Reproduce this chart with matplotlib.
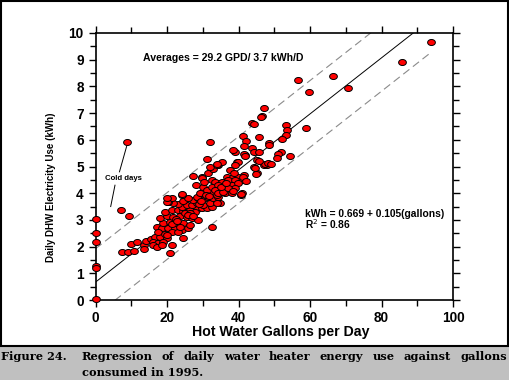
import numpy as np
import matplotlib
matplotlib.use("Agg")
import matplotlib.pyplot as plt
from matplotlib.patches import Rectangle
from matplotlib.ticker import MultipleLocator

# daily hot water use (gallons) and DHW electricity (kWh)
gallons = [
    0, 0, 0, 0, 0, 0,
    7.0, 9.5, 8.9, 7.4, 9.2, 10.8, 10.0, 11.5, 13.6, 13.6, 14.0, 15.6,
    16.6, 18.0, 19.9, 16.2, 17.6, 19.0, 16.2, 17.1, 18.5, 21.3, 20.7, 24.6,
    17.1, 18.5, 20.4, 22.2, 24.1, 26.0, 17.6, 19.4, 21.3, 23.2,
    19.0, 20.8, 22.7, 24.6, 26.4, 18.0, 19.9, 21.8, 23.6, 25.5, 26.9, 28.8,
    19.4, 21.3, 23.2, 24.6, 26.4, 28.3, 29.7, 31.1, 32.5,
    24.1, 23.2, 21.8, 25.5, 26.9, 28.3, 30.2, 32.0,
    20.4, 24.4, 27.4, 30.2, 33.9, 21.3, 26.0, 28.8, 31.6, 33.0, 34.4, 32.5,
    19.9, 24.1, 34.8, 40.6, 20.1,
    24.1, 28.3, 29.2, 32.5, 33.9, 27.4, 29.7, 31.6, 28.1, 32.5, 34.8, 30.2,
    31.3, 33.4, 33.0, 34.3, 32.0, 31.1, 32.1, 29.9, 30.4, 33.9,
    39.0, 41.8, 33.9, 35.3, 39.5, 45.1, 47.0, 47.9, 41.4, 45.1,
    36.7, 38.6, 39.9, 40.9, 33.4, 35.3, 37.2, 39.0, 32.5, 34.4, 36.2, 38.1,
    39.9, 33.4, 35.3, 37.2, 39.0, 34.4, 36.2, 38.1, 40.9, 33.9,
    93.8, 85.8, 66.5, 56.7, 59.8, 70.7, 47.2, 46.7, 46.2, 43.9, 44.3, 58.9,
    53.3, 53.5, 53.2, 52.1, 41.3, 45.8, 42.1, 41.6, 48.4, 48.4, 43.8, 44.2,
    45.6, 38.6, 41.6, 41.8, 51.9, 51.1, 50.7, 54.4, 34.1, 39.8,
    38.9, 47.5, 48.3, 49.1, 45.6, 44.3, 44.5, 44.9, 37.6, 38.8, 41.2, 42.1,
    40.7, 21.3, 22.5, 25.0, 27.8, 30.8, 35.8, 37.0, 26.5, 29.0,
    22.8, 25.8, 27.2, 29.5, 31.8, 35.0, 36.5, 38.5, 20.0, 23.5,
]
kwh = [
    3.02, 2.50, 2.17, 1.26, 1.19, 0.02,
    3.37, 3.15, 5.93, 1.80, 1.79, 1.85, 2.09, 2.17, 2.06, 1.90, 2.22, 2.27,
    2.37, 2.37, 2.31, 2.18, 2.12, 2.18, 2.06, 1.99, 2.06, 2.06, 1.77, 2.31,
    2.74, 2.68, 2.71, 2.68, 2.62, 2.68, 2.56, 2.49, 2.53, 2.56,
    2.87, 2.93, 2.87, 2.87, 2.81, 3.06, 3.16, 3.12, 3.16, 3.12, 3.06, 2.99,
    3.31, 3.37, 3.37, 3.33, 3.37, 3.41, 3.43, 3.46, 3.49,
    3.49, 3.58, 3.62, 3.56, 3.56, 3.62, 3.56, 3.62,
    3.68, 3.71, 3.74, 3.78, 3.71, 3.83, 3.81, 3.83, 3.87, 3.81, 3.87, 2.75,
    3.68, 3.95, 3.65, 3.95, 3.81,
    3.97, 3.84, 3.99, 3.99, 3.93, 4.64, 4.62, 4.77, 4.30, 4.49, 4.37, 4.24,
    4.12, 4.18, 4.89, 5.05, 4.99, 5.27, 5.92, 4.58, 4.43, 4.40,
    5.55, 5.43, 5.05, 5.18, 5.18, 5.24, 5.05, 5.05, 4.68, 4.74,
    4.62, 4.62, 4.62, 4.49, 4.43, 4.43, 4.49, 4.49, 4.24, 4.30, 4.30, 4.30,
    4.37, 4.12, 4.12, 4.12, 4.18, 3.99, 3.99, 3.99, 3.99, 3.62,
    9.65, 8.90, 8.40, 8.23, 7.78, 7.93, 7.19, 6.88, 6.85, 6.64, 6.60, 6.45,
    6.54, 6.37, 6.17, 6.04, 6.13, 6.12, 5.97, 5.78, 5.88, 5.80, 5.71, 5.55,
    5.55, 5.60, 5.45, 5.40, 5.56, 5.48, 5.30, 5.40, 5.09, 5.17,
    5.05, 5.10, 5.12, 5.10, 5.20, 4.98, 4.95, 4.72, 4.88, 4.75, 4.60, 4.45,
    3.97, 2.85, 3.05, 3.25, 3.30, 3.95, 4.05, 4.20, 3.25, 3.60,
    2.95, 3.20, 3.15, 3.70, 3.90, 4.25, 4.40, 4.10, 2.45, 2.75,
]

# regression from the chart text, and the half width of the dashed band
intercept = 0.669
slope = 0.105
band = 1.25

avg_text = "Averages = 29.2 GPD/ 3.7 kWh/D"
fit_text = "kWh = 0.669 + 0.105(gallons)\nR$^2$ = 0.86"
cold_text = "Cold days"
cold_line_top = ([8.7, 6.7], [5.75, 4.8])
cold_line_bottom = ([5.45, 4.25], [4.3, 3.5])

caption_head = "Figure 24."
caption_words = ["Regression", "of", "daily", "water", "heater", "energy",
                 "use", "against", "gallons"]
caption_line2 = "consumed in 1995."

W, H = 509, 380
fig = plt.figure(figsize=(W / 100, H / 100), dpi=100)
fig.patch.set_facecolor("white")

# white plot frame and grey caption strip
cap_h = 34 / H
fig.add_artist(Rectangle((0, 0), 1, cap_h, transform=fig.transFigure,
                         facecolor="#c0c0c0", edgecolor="none", zorder=0))
fig.add_artist(Rectangle((0.5 / W, cap_h), 1 - 1.5 / W, 1 - cap_h - 0.5 / H,
                         transform=fig.transFigure, facecolor="white",
                         edgecolor="black", lw=1.5, zorder=0))

ax = fig.add_axes([95.5 / W, 1 - 300 / H, 357.5 / W, 267 / H])
ax.set_xlim(0, 100)
ax.set_ylim(0, 10)

sans = "Liberation Sans"

x = np.array(gallons)
y = np.array(kwh)
xf = np.array([0, x.max()])
yf = intercept + slope * xf
ax.plot(xf, yf, color="black", lw=0.7, zorder=2)
ax.plot(xf, yf + band, color="#8a8a8a", lw=0.8, dashes=(7, 4), zorder=2)
ax.plot(xf, yf - band, color="#8a8a8a", lw=0.8, dashes=(7, 4), zorder=2)

# slightly flattened round marker, like the original plot symbol
t = np.linspace(0, 2 * np.pi, 25)
blob = np.column_stack([np.cos(t), 0.78 * np.sin(t)])
ax.plot(x, y, linestyle="none", marker=blob, ms=5.6, mfc="#ff0000",
        mec="black", mew=0.7, zorder=3, clip_on=False)

ax.plot(*cold_line_top, color="black", lw=0.7)
ax.plot(*cold_line_bottom, color="black", lw=0.7)
ax.text(2.7, 4.56, cold_text, fontsize=5.6, fontweight="bold",
        family=sans, va="center")
ax.text(13.4, 9.06, avg_text, fontsize=7.6, fontweight="bold",
        family=sans, va="center")
ax.text(58.6, 3.0, fit_text, fontsize=7.4, fontweight="bold",
        family=sans, va="center", linespacing=0.85)

ax.xaxis.set_major_locator(MultipleLocator(20))
ax.xaxis.set_minor_locator(MultipleLocator(10))
ax.yaxis.set_major_locator(MultipleLocator(1))
ax.yaxis.set_minor_locator(MultipleLocator(0.5))
ax.tick_params(which="both", direction="out", top=True, right=True,
               width=1.0, labelsize=9.8)
ax.tick_params(which="major", length=5)
ax.tick_params(which="minor", length=4)
ax.tick_params(axis="x", pad=3)
ax.tick_params(axis="y", pad=3.5)
for lab in ax.get_xticklabels() + ax.get_yticklabels():
    lab.set_fontweight("bold")
    lab.set_family(sans)
for s in ax.spines.values():
    s.set_linewidth(1.2)

ax.text(0.518, -0.119, "Hot Water Gallons per Day", transform=ax.transAxes,
        ha="center", va="center", fontsize=10.2, fontweight="bold", family=sans)
ax.text(-0.124, 0.424, "Daily DHW Electricity Use (kWh)", transform=ax.transAxes,
        ha="center", va="center", rotation=90, fontsize=7.0,
        fontweight="bold", family=sans)

# caption, first line justified across the strip
serif = "DejaVu Serif"
cap_kw = dict(fontsize=8.2, fontweight="bold", family=serif, va="center")
y1 = 1 - 356 / H
y2 = 1 - 372.5 / H
fig.text(1 / W, y1, caption_head, **cap_kw)
fig.text(81.7 / W, y2, caption_line2, **cap_kw)
fig.canvas.draw()
rend = fig.canvas.get_renderer()
texts = [fig.text(0, y1, w, **cap_kw) for w in caption_words]
widths = [t.get_window_extent(rend).width for t in texts]
left, right = 81.7, 507.0
gap = (right - left - sum(widths)) / (len(texts) - 1)
pos = left
for t, w in zip(texts, widths):
    t.set_x(pos / W)
    pos += w + gap

fig.savefig("out.png", dpi=100)
